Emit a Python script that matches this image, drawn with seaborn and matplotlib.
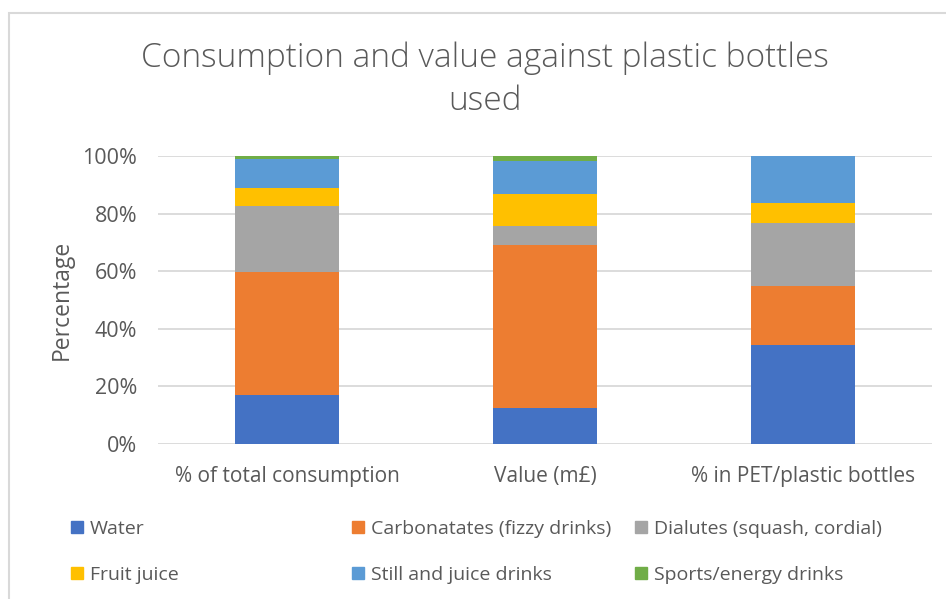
import matplotlib
matplotlib.use("Agg")
import matplotlib.pyplot as plt
import matplotlib.patches as mpatches
import numpy as np
import pandas as pd
import seaborn as sns

categories = ["% of total consumption", "Value (m£)", "% in PET/plastic bottles"]
series = ["Water", "Carbonatates (fizzy drinks)", "Dialutes (squash, cordial)",
          "Fruit juice", "Still and juice drinks", "Sports/energy drinks"]
water = [17.0, 12.4, 34.4]
carbonates = [42.8, 56.7, 20.6]
dialutes = [22.8, 6.6, 21.6]
fruit_juice = [6.2, 11.0, 7.0]
still_drinks = [10.2, 11.7, 16.4]
sports = [1.0, 1.6, 0.0]
colors = ["#4472C4", "#ED7D31", "#A5A5A5", "#FFC000", "#5B9BD5", "#70AD47"]

sns.set_style("white")
plt.rcParams["font.family"] = ["Open Sans", "DejaVu Sans"]
text_col = "#595959"

values = [water, carbonates, dialutes, fruit_juice, still_drinks, sports]
df = pd.DataFrame({s: v for s, v in zip(series, values)}, index=categories)
tops = df.cumsum(axis=1)

fig = plt.figure(figsize=(9.46, 5.99), dpi=100)
ax = fig.add_axes([158 / 946, 1 - 444 / 599, 774 / 946, 288 / 599])

# stacked bars: draw cumulative heights from the top series down
for s, c in reversed(list(zip(series, colors))):
    sns.barplot(x=categories, y=tops[s].values, color=c, width=0.4,
                saturation=1, ax=ax, zorder=2, linewidth=0)

ax.set_ylim(0, 100)
ax.set_yticks(np.arange(0, 101, 20))
ax.set_yticklabels([f"{t}%" for t in range(0, 101, 20)])
ax.yaxis.grid(True, color="#D9D9D9", linewidth=1.3, zorder=0)
ax.set_axisbelow(True)
for sp in ax.spines.values():
    sp.set_visible(False)
ax.tick_params(axis="y", length=0, pad=15, labelsize=15.5, labelcolor=text_col)
ax.tick_params(axis="x", length=0, pad=16, labelsize=15, labelcolor=text_col)
ax.set_ylabel("Percentage", fontsize=16.5, color=text_col, labelpad=6)
ax.set_xlabel("")

fig.text(485 / 946, 1 - 80 / 599, "Consumption and value against plastic bottles\nused",
         ha="center", va="center", fontsize=24, color=text_col, linespacing=1.36,
         fontweight="light")

# chart area border
fig.patches.append(mpatches.Rectangle((9 / 946, -0.1), 1.2, 1.1 - 13 / 599,
                                      transform=fig.transFigure, fill=False,
                                      edgecolor="#D9D9D9", linewidth=1.5))

handles = [mpatches.Patch(color=c, label=s) for s, c in zip(series, colors)]
col_x = [63, 344, 627]
for i, x0 in enumerate(col_x):
    leg = fig.legend(handles=[handles[i], handles[i + 3]], loc="upper left",
                     bbox_to_anchor=(x0 / 946, 1 - 512 / 599), frameon=False,
                     fontsize=14, handlelength=0.63, handleheight=0.63,
                     handletextpad=0.35, labelspacing=1.45, borderaxespad=0)
    for t in leg.get_texts():
        t.set_color(text_col)

fig.savefig("out.png", dpi=100, facecolor="white")
